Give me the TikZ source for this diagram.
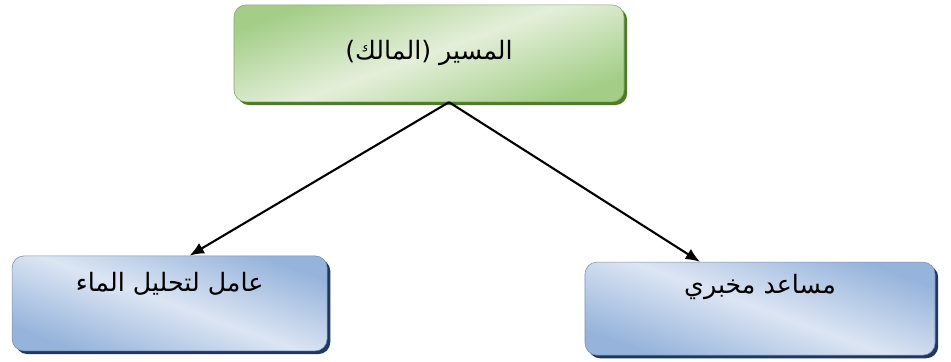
\documentclass[tikz,border=0pt]{standalone}
\usepackage{fontspec}
\usetikzlibrary{arrows.meta,shadows}
\newfontfamily\arabicfont[Script=Arabic]{DejaVu Sans}
\TeXXeTstate=1
\definecolor{greenlight}{RGB}{228,239,218}
\definecolor{greendark}{RGB}{164,206,136}
\definecolor{greenshade}{RGB}{78,122,42}
\definecolor{bluelight}{RGB}{220,229,243}
\definecolor{bluedark}{RGB}{149,179,219}
\definecolor{blueshade}{RGB}{31,55,99}

\begin{document}
\begin{tikzpicture}[
    greenbox/.style={rounded corners=0.3cm, draw=greendark!80!black, line width=0.4pt,
      shading=axis, top color=greendark, bottom color=greendark,
      middle color=greenlight, shading angle=20,
      drop shadow={shadow xshift=0.08cm, shadow yshift=-0.08cm, fill=greenshade, opacity=1}},
    bluebox/.style={rounded corners=0.3cm, draw=bluedark!80!black, line width=0.4pt,
      shading=axis, top color=bluedark, bottom color=bluedark,
      middle color=bluelight, shading angle=-20,
      drop shadow={shadow xshift=0.08cm, shadow yshift=-0.08cm, fill=blueshade, opacity=1}},
    link/.style={line width=1.5pt, -{Latex[length=0.36cm, width=0.3cm]}}
  ]
    \useasboundingbox (0,0) rectangle (23.775,9.025);
    % top: the manager
    \node[greenbox, minimum width=9.75cm, minimum height=2.425cm, text depth=0.2cm] (owner) at (10.725,7.69)
      {\fontsize{18}{22}\selectfont\arabicfont\beginR المسير (المالك)\endR};
    % bottom row
    \node[bluebox, minimum width=7.875cm, minimum height=2.375cm, text depth=1.1cm] (analyst) at (4.24,1.44)
      {\fontsize{18}{22}\selectfont\arabicfont\beginR عامل لتحليل الماء\endR};
    \node[bluebox, minimum width=8.75cm, minimum height=2.325cm, text depth=1.25cm] (lab) at (19.0,1.31)
      {\fontsize{18}{22}\selectfont\arabicfont\beginR مساعد مخبري\endR};
    \draw[link] ([xshift=0.5cm]owner.south) -- ([xshift=0.5cm]analyst.north);
    \draw[link] ([xshift=0.5cm]owner.south) -- ([xshift=-1.5cm]lab.north);
  \end{tikzpicture}
\end{document}
